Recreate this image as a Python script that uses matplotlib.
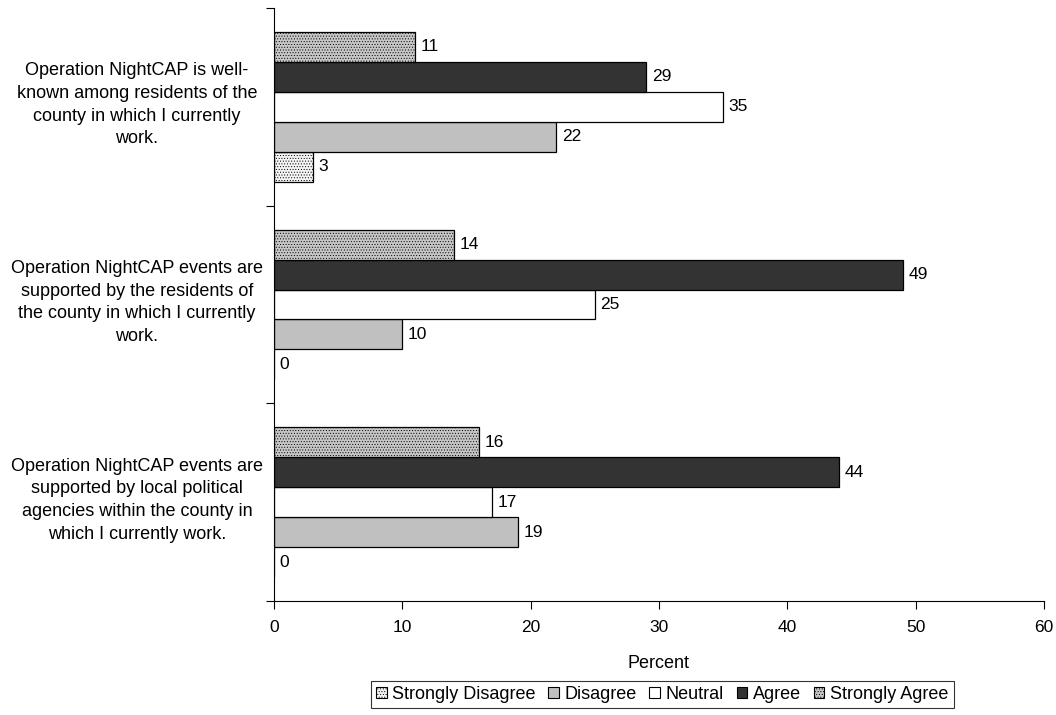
import matplotlib
matplotlib.use("Agg")
import matplotlib.pyplot as plt
from matplotlib.patches import Patch
import numpy as np

plt.rcParams['font.family'] = ['Liberation Sans', 'DejaVu Sans']
plt.rcParams['hatch.linewidth'] = 0.4

statements = [
    "Operation NightCAP is well-\nknown among residents of the\ncounty in which I currently\nwork.",
    "Operation NightCAP events are\nsupported by the residents of\nthe county in which I currently\nwork.",
    "Operation NightCAP events are\nsupported by local political\nagencies within the county in\nwhich I currently work.",
]
series = ["Strongly Disagree", "Disagree", "Neutral", "Agree", "Strongly Agree"]
strongly_disagree = [3, 0, 0]
disagree = [22, 10, 19]
neutral = [35, 25, 17]
agree = [29, 49, 44]
strongly_agree = [11, 14, 16]
values = [strongly_disagree, disagree, neutral, agree, strongly_agree]

faces = ['#f4f4f4', '#c0c0c0', 'white', '#333333', '#c6c6c6']
hatches = ['......', None, None, None, '......']
hatch_cols = ['#c8c8c8', None, None, None, '#9a9a9a']

fig = plt.figure(figsize=(10.56, 7.15), dpi=100)
ax = fig.add_axes([0.2595, 0.1594, 0.7291, 0.8294])

bh = 0.1515
y = np.arange(len(statements))
for i, (name, vals) in enumerate(zip(series, values)):
    pos = y + (2 - i) * bh
    bars = ax.barh(pos, vals, height=bh, color=faces[i], edgecolor='black', linewidth=0.9)
    if hatches[i]:
        for b in bars:
            b.set_hatch(hatches[i])
            b._hatch_color = matplotlib.colors.to_rgba(hatch_cols[i])
            b.set_edgecolor('black')
    for p, v in zip(pos, vals):
        ax.annotate(str(v), (v, p), xytext=(4, 0), textcoords='offset points',
                    ha='left', va='center', fontsize=12.5)

ax.set_ylim(2.5, -0.5)
ax.set_xlim(0, 60)
ax.set_xticks(range(0, 61, 10))
ax.set_yticks([-0.5, 0.5, 1.5, 2.5])
ax.set_yticklabels([])
ax.tick_params(axis='both', direction='out', length=6, labelsize=12.5, pad=8)
for s in ['top', 'right']:
    ax.spines[s].set_visible(False)
ax.set_xlabel("Percent", fontsize=13, labelpad=14)

for k, txt in enumerate(statements):
    yc = ax.transData.transform((0, k))[1] + 2
    yf = fig.transFigure.inverted().transform((0, yc))[1]
    fig.text(0.1297, yf, txt, ha='center', va='center', fontsize=13, linespacing=1.43)

handles = []
for i, name in enumerate(series):
    h = Patch(facecolor=faces[i], edgecolor='black', linewidth=0.8,
              hatch=hatches[i] if hatches[i] else None, label=name)
    handles.append(h)
leg = fig.legend(handles=handles, loc='center', bbox_to_anchor=(0.627, 0.0287), ncol=5,
                 fontsize=13, frameon=True, fancybox=False, edgecolor='black',
                 handlelength=0.6, handleheight=0.6, handletextpad=0.3, columnspacing=0.7,
                 borderpad=0.3)
leg.get_frame().set_linewidth(0.8)

fig.savefig("out.png", dpi=100)
